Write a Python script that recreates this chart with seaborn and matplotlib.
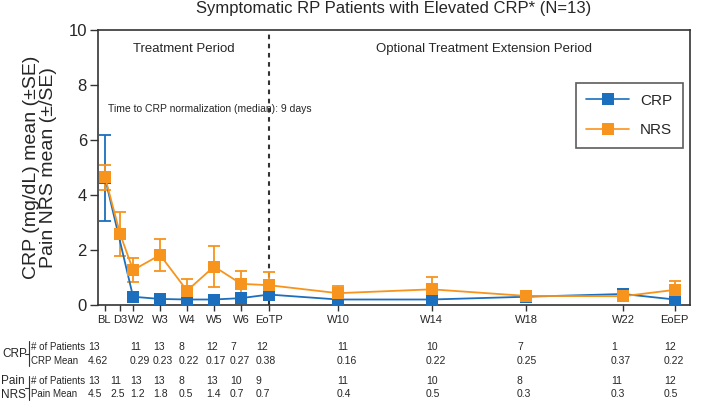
import matplotlib
matplotlib.use('Agg')
import matplotlib.pyplot as plt
import matplotlib.transforms as mtransforms
from matplotlib.lines import Line2D
import numpy as np
import pandas as pd
import seaborn as sns

# Data
visits = ['BL', 'D3', 'W2', 'W3', 'W4', 'W5', 'W6', 'EoTP',
          'W10', 'W14', 'W18', 'W22', 'EoEP']
crp_mean = [4.62, np.nan, 0.30, 0.22, 0.20, 0.20, 0.25, 0.38,
            0.20, 0.20, 0.30, 0.40, 0.20]
crp_se = [1.56, np.nan, 0.08, 0.06, 0.06, 0.06, 0.08, 0.10,
          0.05, 0.06, 0.08, 0.10, 0.06]
nrs_mean = [4.65, 2.58, 1.27, 1.82, 0.52, 1.40, 0.77, 0.72,
            0.43, 0.57, 0.33, 0.32, 0.55]
nrs_se = [0.45, 0.79, 0.43, 0.57, 0.42, 0.76, 0.46, 0.47,
          0.25, 0.45, 0.10, 0.10, 0.32]

# table under the chart (as printed)
crp_n = ['13', '', '11', '13', '8', '12', '7', '12', '11', '10', '7', '1', '12']
crp_mean_txt = ['4.62', '', '0.29', '0.23', '0.22', '0.17', '0.27', '0.38',
                '0.16', '0.22', '0.25', '0.37', '0.22']
nrs_n = ['13', '11', '13', '13', '8', '13', '10', '9', '11', '10', '8', '11', '12']
nrs_mean_txt = ['4.5', '2.5', '1.2', '1.8', '0.5', '1.4', '0.7', '0.7',
                '0.4', '0.5', '0.3', '0.3', '0.5']

# layout: x position of each visit on the axis, and of its table column
x_pos = [0, 0.56, 1.04, 2.04, 3.04, 4.04, 5.04, 6.07,
         8.63, 12.1, 15.6, 19.2, 21.1]
table_x = [-0.63, 0.19, 0.93, 1.78, 2.74, 3.74, 4.63, 5.59,
           8.59, 11.89, 15.26, 18.74, 20.7]

BLUE = '#1b6fbd'
ORANGE = '#f7941d'

sns.set_style('ticks')
plt.rcParams['font.family'] = ['Liberation Sans', 'DejaVu Sans']

df = pd.DataFrame({
    'x': x_pos * 2,
    'mean': crp_mean + nrs_mean,
    'se': crp_se + nrs_se,
    'series': ['CRP'] * len(visits) + ['NRS'] * len(visits),
}).dropna()

W, H = 709, 401
fig = plt.figure(figsize=(W / 100, H / 100), dpi=100)
ax = fig.add_axes([98 / W, 1 - 305 / H, (690 - 98) / W, (305 - 30) / H])

for name, color in [('CRP', BLUE), ('NRS', ORANGE)]:
    d = df[df['series'] == name]
    ax.errorbar(d['x'], d['mean'], yerr=d['se'], fmt='none', ecolor=color,
                elinewidth=1.3, capsize=4, capthick=1.3, zorder=2)
    sns.lineplot(data=d, x='x', y='mean', color=color, marker='s',
                 markersize=8.5, markeredgewidth=0, linewidth=1.3,
                 ax=ax, zorder=3, legend=False)

ax.axvline(x_pos[visits.index('EoTP')], color='#333333', lw=1.5,
           ls=(0, (2.2, 2.2)), zorder=1)

ax.set_xlim(-0.26, 21.67)
ax.set_ylim(0, 10)
ax.set_yticks([0, 2, 4, 6, 8, 10])
ax.set_xticks(x_pos)
ax.set_xticklabels(visits, fontsize=8)
ax.tick_params(axis='y', labelsize=12, length=6, width=1, color='#333333', pad=2)
ax.tick_params(axis='x', length=4, width=1, color='#333333', pad=3)
# the first three labels sit close together, nudge them apart a little
for lab, dx in zip(ax.get_xticklabels()[:3], [-1, 0, 3]):
    lab.set_transform(lab.get_transform() +
                      mtransforms.ScaledTranslation(dx / 100, 0, fig.dpi_scale_trans))
ax.set_xlabel('')
ax.set_ylabel('CRP (mg/dL) mean (±SE)\nPain NRS mean (±/SE)', fontsize=14,
              linespacing=1.0, labelpad=8)
for sp in ax.spines.values():
    sp.set_color('#333333')
    sp.set_linewidth(1.2)

ax.text(0.145, 0.931, 'Treatment Period', transform=ax.transAxes,
        ha='center', va='center', fontsize=9.5)
ax.text(0.652, 0.931, 'Optional Treatment Extension Period',
        transform=ax.transAxes, ha='center', va='center', fontsize=9.5)
ax.text(0.017, 0.713, 'Time to CRP normalization (median): 9 days',
        transform=ax.transAxes, ha='left', va='center', fontsize=7.5)

handles = [Line2D([], [], color=BLUE, marker='s', markersize=8, lw=1.2,
                  markeredgewidth=0, label='CRP'),
           Line2D([], [], color=ORANGE, marker='s', markersize=8, lw=1.2,
                  markeredgewidth=0, label='NRS')]
leg = ax.legend(handles=handles, loc='upper left',
                bbox_to_anchor=(0.807, 0.807), borderaxespad=0,
                fontsize=11, frameon=True, fancybox=False,
                handlelength=2.8, handletextpad=0.7, labelspacing=1.0,
                borderpad=0.7)
leg.get_frame().set_edgecolor('#333333')
leg.get_frame().set_linewidth(1.2)

fig.suptitle('Symptomatic RP Patients with Elevated CRP* (N=13)',
             x=394 / W, y=1 - 1 / H, va='top', fontsize=12)

# table below the chart
trans = mtransforms.blended_transform_factory(ax.transData, fig.transFigure)
rows = [(347, crp_n), (361, crp_mean_txt), (381, nrs_n), (394, nrs_mean_txt)]
for ypx, vals in rows:
    for xv, v in zip(table_x, vals):
        fig.text(xv, 1 - ypx / H, v, transform=trans, ha='left',
                 va='center', fontsize=7.5)

for ypx, lab in zip([347, 361, 381, 394],
                    ['# of Patients', 'CRP Mean', '# of Patients', 'Pain Mean']):
    fig.text(31 / W, 1 - ypx / H, lab, ha='left', va='center', fontsize=7)

fig.text(2 / W, 1 - 354 / H, 'CRP', ha='left', va='center', fontsize=8.5)
fig.text(1 / W, 1 - 381 / H, 'Pain', ha='left', va='center', fontsize=8.5)
fig.text(1 / W, 1 - 395 / H, 'NRS', ha='left', va='center', fontsize=8.5)

for y0, y1 in [(341, 366), (376, 400)]:
    fig.add_artist(Line2D([29 / W, 29 / W], [1 - y0 / H, 1 - y1 / H],
                          color='#333333', lw=0.8, transform=fig.transFigure))
    ym = (y0 + y1) / 2
    fig.add_artist(Line2D([25 / W, 29 / W], [1 - ym / H, 1 - ym / H],
                          color='#333333', lw=0.8, transform=fig.transFigure))

fig.savefig('out.png', dpi=100)
